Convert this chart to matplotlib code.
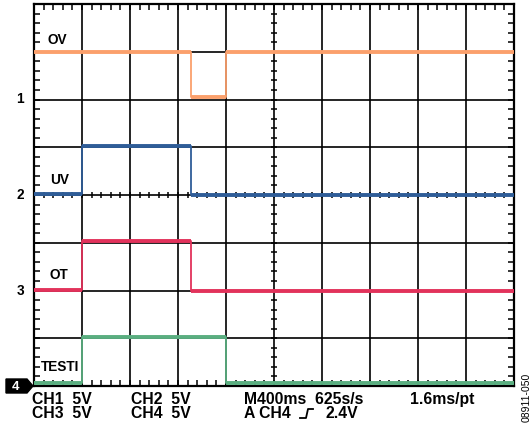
import matplotlib
matplotlib.use('Agg')
import matplotlib.pyplot as plt
import numpy as np

W, H = 531, 427

# time in seconds (400 ms/div, 10 div), levels in volts (5 V/div)
t_ov = [0.0, 1.31, 1.60, 4.0]
v_ov = [5.0, 0.25, 5.0, 5.0]
t_uv = [0.0, 0.404, 1.31, 4.0]
v_uv = [0.1, 5.1, 0.05, 0.05]
t_ot = [0.0, 0.404, 1.31, 4.0]
v_ot = [0.05, 5.2, 0.0, 0.0]
t_testi = [0.0, 0.404, 1.60, 4.0]
v_testi = [0.3, 5.1, 0.35, 0.35]

names = ['OV', 'UV', 'OT', 'TESTI']
offsets = [6, 4, 2, 0]          # ground position of each channel (div)
colors = ['#FBA06C', '#2F5D98', '#E2325B', '#5AAE80']
volts_per_div = 5.0
sec_per_div = 0.4

plt.rcParams['font.family'] = ['Liberation Sans', 'DejaVu Sans']
plt.rcParams['font.weight'] = 'bold'

fig = plt.figure(figsize=(W / 100, H / 100), dpi=100)
ax = fig.add_axes([34 / W, (H - 387) / H, 480 / W, 382 / H])
ax.set_xlim(0, 10)
ax.set_ylim(0, 8)

# grid
for i in range(1, 10):
    ax.axvline(i, color='black', lw=1.2, zorder=1)
for j in range(1, 8):
    ax.axhline(j, color='black', lw=1.2, zorder=1)
for s in ax.spines.values():
    s.set_linewidth(1.6)

# border ticks
ax.set_xticks(np.arange(0, 10.01, 0.2), minor=True)
ax.set_yticks(np.arange(0, 8.01, 0.2), minor=True)
ax.set_xticks([])
ax.set_yticks([])
ax.tick_params(which='minor', direction='in', length=4, width=1.1,
               top=True, right=True, labelbottom=False, labelleft=False)

# ticks on the centre lines
tx = np.arange(0.2, 10, 0.2)
ty = np.arange(0.2, 8, 0.2)
ax.plot(np.full_like(ty, 5), ty, ls='none', marker='_', ms=5, mew=1.1, color='black', zorder=1)
ax.plot(tx, np.full_like(tx, 4), ls='none', marker='|', ms=5, mew=1.1, color='black', zorder=1)

# traces: thin edges, thicker flat parts
series = [(t_ov, v_ov), (t_uv, v_uv), (t_ot, v_ot), (t_testi, v_testi)]
for (t, v), off, c in zip(series, offsets, colors):
    x = np.array(t) / sec_per_div
    y = off + np.array(v) / volts_per_div
    ax.plot(x, y, drawstyle='steps-post', color=c, lw=1.3, zorder=3)
    ax.hlines(y[:-1], x[:-1], x[1:], color=c, lw=2.8, zorder=3)

def ftext(px, py, s, **kw):
    fig.text(px / W, 1 - py / H, s, **kw)

# channel names
name_pos = [(47, 40), (50, 180), (50, 275), (41, 367)]
for n, (px, py) in zip(names, name_pos):
    ftext(px, py, n, fontsize=9.8, fontweight='bold', va='center', ha='left')

# channel ground markers
for k, py in zip(['1', '2', '3'], [99, 195, 291]):
    ftext(20, py, k, fontsize=9.8, fontweight='bold', va='center', ha='center')
marker = plt.Polygon([[6 / W, 1 - 380 / H], [27 / W, 1 - 380 / H], [33 / W, 1 - 387 / H],
                      [27 / W, 1 - 394 / H], [6 / W, 1 - 394 / H]],
                     closed=True, transform=fig.transFigure, color='black')
fig.patches.append(marker)
ftext(16, 387, '4', fontsize=9.5, fontweight='bold', color='white', va='center', ha='center')

# bottom readout
fs = 11.3
ftext(32, 400, 'CH1  5V', fontsize=fs, va='center')
ftext(32, 414, 'CH3  5V', fontsize=fs, va='center')
ftext(131, 400, 'CH2  5V', fontsize=fs, va='center')
ftext(131, 414, 'CH4  5V', fontsize=fs, va='center')
ftext(244, 400, 'M400ms  625s/s', fontsize=fs, va='center')
ftext(244, 414, 'A CH4', fontsize=fs, va='center')
ftext(325, 414, '2.4V', fontsize=fs, va='center')
ftext(410, 400, '1.6ms/pt', fontsize=fs, va='center')
trig_x = np.array([300, 306, 308, 313]) / W
trig_y = 1 - np.array([419, 419, 410, 410]) / H
fig.add_artist(plt.Line2D(trig_x, trig_y, transform=fig.transFigure, color='black', lw=1.3))

ftext(527, 397, '08911-050', fontsize=7.5, fontweight='normal', rotation=90,
      va='center', ha='center')

fig.savefig('out.png', dpi=100)
